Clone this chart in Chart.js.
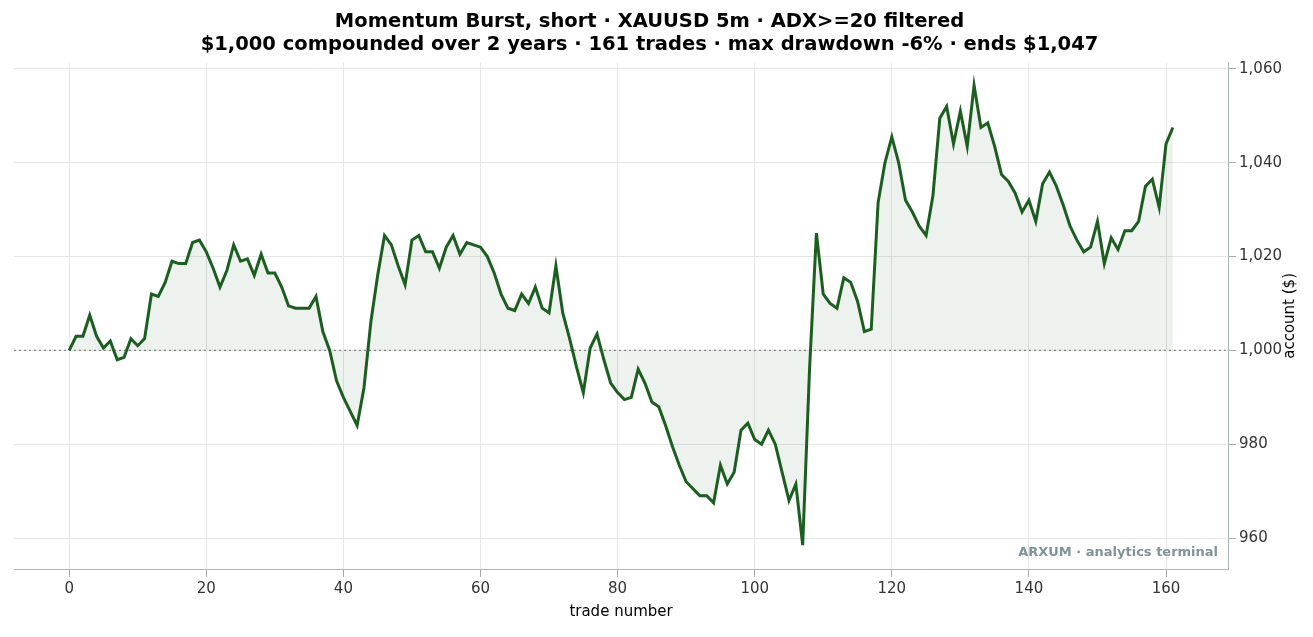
<!DOCTYPE html>
<html><head><meta charset="utf-8">
<script src="https://cdn.jsdelivr.net/npm/chart.js@4"></script>
<style>html,body{margin:0;padding:0;background:#fff;}#wrap{width:1313px;height:637px;position:relative;}</style>
</head><body><div id="wrap"><canvas id="c" width="1313" height="637"></canvas></div>
<script>
const equity = [1000,1003,1003,1007.5,1003,1000.5,1002,998,998.5,1002.5,1001,1002.5,1012,1011.5,1014.5,1019,1018.5,1018.5,1023,1023.5,
1021,1017.5,1013.5,1017,1022.5,1019,1019.5,1016,1020.5,1016.5,1016.5,1013.5,1009.5,1009,1009,1009,1011.5,1004,1000,993.5,
990,987,984,992,1006,1016,1024.5,1022.5,1018,1014,1023.5,1024.5,1021,1021,1017.5,1022,1024.5,1020.5,1023,1022.5,
1022,1020,1016.5,1012,1009,1008.5,1012,1010,1013.5,1009,1008,1018,1008,1002.5,996.5,991,1000.5,1003.5,998,993,
991,989.5,990,996,993,989,988,984,979.5,975.5,972,970.5,969,969,967.5,975.5,971.5,974,983,984.5,
981,980,983,980,974,968,971.5,958.5,996,1025,1012,1010,1009,1015.5,1014.5,1010.5,1004,1004.5,1031.5,1040,
1045.5,1040,1032,1029.5,1026.5,1024.5,1033,1049.5,1052,1044,1051,1043.5,1056.5,1047.5,1048.5,1043.5,1037.5,1036,1033.5,1029.5,
1032,1027.5,1035.5,1038,1035,1031,1026.5,1023.5,1021,1022,1027.5,1018.5,1024,1021.5,1025.5,1025.5,1027.5,1035,1036.5,1030.5,
1044,1047.5];
const startBalance = 1000;
const xTicks = [0,20,40,60,80,100,120,140,160];
const yTicks = [960,980,1000,1020,1040,1060];
const titleLines = ["Momentum Burst, short · XAUUSD 5m · ADX>=20 filtered","$1,000 compounded over 2 years · 161 trades · max drawdown -6% · ends $1,047"];
const pts = equity.map((v,i)=>({x:i,y:v}));
const basePts = [{x:-8.05,y:startBalance},{x:169.05,y:startBalance}];
const extras = {id:'extras',afterDraw(ch){const c=ch.ctx,a=ch.chartArea;c.save();
 c.font='bold 13px "DejaVu Sans"';c.fillStyle='#7f939a';c.textAlign='right';c.textBaseline='bottom';c.fillText('ARXUM · analytics terminal',a.right-10,a.bottom-10);
 c.translate(1290,(a.top+a.bottom)/2);c.rotate(-Math.PI/2);c.font='15px "DejaVu Sans"';c.fillStyle='#000';c.textAlign='center';c.textBaseline='middle';c.fillText('account ($)',0,0);
 c.restore();}};
new Chart(document.getElementById('c'),{
 type:'line',
 data:{datasets:[
  {data:pts,borderColor:'#1b5e20',borderWidth:3,pointRadius:0,tension:0,fill:{value:startBalance},backgroundColor:'rgba(27,94,32,0.08)'},
  {data:basePts,borderColor:'#888',borderWidth:1.3,borderDash:[2,3],pointRadius:0,fill:false}
 ]},
 options:{responsive:false,animation:false,
  layout:{padding:{left:14,right:28,top:0,bottom:12}},
  plugins:{legend:{display:false},tooltip:{enabled:false},
   title:{display:true,text:titleLines,color:'#000',font:{family:'DejaVu Sans',size:19.5,weight:'bold'},padding:{top:10,bottom:6},lineHeight:1.15}},
  scales:{
   x:{type:'linear',min:-8.05,max:169.05,
      afterBuildTicks(ax){ax.ticks=xTicks.map(v=>({value:v}));},
      ticks:{color:'#333',font:{family:'DejaVu Sans',size:15}},
      grid:{color:'#e6e6e6',tickColor:'#aaa'},border:{color:'#a9bcb9'},
      title:{display:true,text:'trade number',color:'#000',font:{family:'DejaVu Sans',size:15},padding:{top:2}}},
   y:{position:'right',min:953.4,max:1061.3,
      afterBuildTicks(ax){ax.ticks=yTicks.map(v=>({value:v}));},
      ticks:{color:'#333',font:{family:'DejaVu Sans',size:15}},
      grid:{color:'#e6e6e6',tickColor:'#aaa'},border:{color:'#a9bcb9'}}
  }},
 plugins:[extras]
});
</script></body></html>
